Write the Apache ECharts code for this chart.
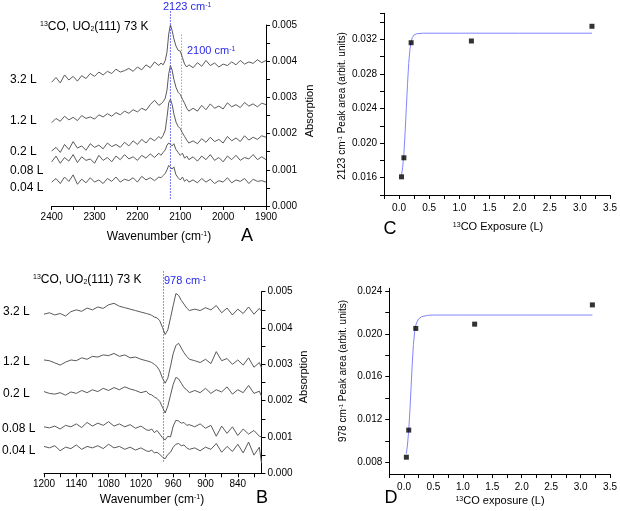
<!DOCTYPE html>
<html><head><meta charset="utf-8">
<script src="https://cdn.jsdelivr.net/npm/echarts@6/dist/echarts.min.js"></script>
<style>html,body{margin:0;padding:0;background:#fff}#c{width:620px;height:511px}</style>
</head><body><div id="c"></div>
<script>
// ---------- DATA ----------
// Panel A: wavenumbers (cm-1) and absorption in units of 1e-3
const wnA = [2400,2390,2380,2370,2360,2350,2340,2330,2320,2310,2300,2290,2280,2270,2260,2250,2240,2230,2220,2210,2200,2190,2180,2170,2160,2150,
  2145,2140,2135,2131,2127,2123,2119,2115,2110,2105,2100,2095,2090,2085,2080,
  2070,2060,2050,2040,2030,2020,2010,2000,1990,1980,1970,1960,1950,1940,1930,1920,1910,1900];
const specA_3_2 = [3.42,3.55,3.40,3.62,3.48,3.58,3.45,3.60,3.52,3.66,3.58,3.70,3.62,3.72,3.66,3.78,3.70,3.74,3.80,3.72,3.84,3.76,3.90,3.82,3.98,3.88,
  3.95,3.90,4.02,4.25,4.75,5.00,4.85,4.62,4.42,4.30,4.28,4.10,3.92,3.84,3.90,
  3.82,3.96,3.86,4.02,3.88,3.95,3.84,3.92,3.88,3.98,3.90,4.02,3.92,3.98,3.94,4.04,3.96,4.02];
const specA_1_2 = [2.30,2.42,2.34,2.48,2.38,2.45,2.36,2.50,2.42,2.46,2.40,2.52,2.46,2.55,2.48,2.58,2.52,2.62,2.56,2.66,2.60,2.70,2.64,2.80,2.92,2.78,
  2.82,2.88,2.98,3.20,3.65,3.88,3.75,3.50,3.28,3.14,3.08,2.95,2.84,2.70,2.62,
  2.70,2.62,2.78,2.66,2.82,2.70,2.76,2.68,2.85,2.74,2.80,2.72,2.86,2.76,2.82,2.74,2.84,2.80];
const specA_0_2 = [1.52,1.62,1.48,1.70,1.56,1.78,1.60,1.66,1.54,1.72,1.62,1.68,1.58,1.74,1.64,1.70,1.62,1.76,1.66,1.80,1.70,1.84,1.74,1.88,1.80,1.92,
  1.86,1.95,2.10,2.45,2.85,2.95,2.80,2.55,2.32,2.20,2.14,2.02,1.92,1.82,1.74,
  1.80,1.72,1.86,1.76,1.90,1.78,1.84,1.74,1.92,1.80,1.88,1.78,1.94,1.82,1.90,1.84,1.94,1.90];
const specA_0_08 = [1.22,1.38,1.18,1.34,1.24,1.42,1.20,1.36,1.26,1.30,1.18,1.40,1.26,1.34,1.22,1.38,1.28,1.42,1.30,1.36,1.26,1.40,1.32,1.44,1.34,1.46,
  1.40,1.48,1.55,1.68,1.74,1.78,1.66,1.72,1.56,1.48,1.40,1.46,1.32,1.38,1.28,
  1.36,1.24,1.38,1.28,1.42,1.26,1.34,1.22,1.38,1.28,1.40,1.26,1.34,1.30,1.42,1.28,1.36,1.28];
const specA_0_04 = [0.66,0.76,0.62,0.80,0.68,0.86,0.60,0.74,0.64,0.78,0.66,0.72,0.62,0.76,0.68,0.80,0.66,0.74,0.70,0.78,0.66,0.82,0.72,0.78,0.70,0.80,
  0.78,0.84,0.90,1.00,1.12,1.16,1.02,1.08,0.86,0.78,0.72,0.80,0.68,0.74,0.66,
  0.72,0.64,0.76,0.66,0.74,0.62,0.70,0.66,0.78,0.64,0.72,0.68,0.76,0.62,0.74,0.68,0.70,0.66];

// Panel B
const wnB = [1200,1190,1180,1170,1160,1150,1140,1130,1120,1110,1100,1090,1080,1070,1060,1050,1040,1030,1020,1010,
  1005,1000,995,990,985,980,975,970,965,960,955,950,945,940,935,930,
  920,910,900,890,880,870,860,850,840,830,820,810,800,796];
const specB_3_2 = [4.38,4.42,4.36,4.40,4.33,4.45,4.50,4.46,4.55,4.50,4.58,4.54,4.64,4.68,4.60,4.56,4.52,4.48,4.44,4.40,
  4.38,4.35,4.30,4.28,4.20,4.02,3.82,3.95,4.28,4.62,4.95,4.90,4.76,4.66,4.55,4.48,
  4.52,4.48,4.56,4.50,4.62,4.42,4.55,4.36,4.52,4.40,4.58,4.38,4.54,4.46];
const specB_1_2 = [3.12,3.10,3.04,2.98,3.06,3.12,3.10,3.18,3.14,3.22,3.20,3.26,3.24,3.30,3.22,3.26,3.18,3.20,3.14,3.10,
  3.08,3.05,3.00,2.94,2.82,2.62,2.48,2.62,2.95,3.30,3.52,3.58,3.45,3.32,3.22,3.14,
  3.10,3.05,3.14,3.02,3.35,3.10,3.16,3.00,3.12,2.98,3.18,2.92,3.05,2.90];
const specB_0_2 = [2.25,2.20,2.18,2.22,2.15,2.24,2.20,2.28,2.22,2.30,2.25,2.34,2.28,2.36,2.30,2.38,2.32,2.28,2.22,2.26,
  2.18,2.16,2.10,2.06,1.98,1.82,1.66,1.85,2.15,2.45,2.64,2.60,2.48,2.36,2.30,2.22,
  2.28,2.22,2.34,2.20,2.30,2.24,2.38,2.18,2.30,2.22,2.42,2.20,2.26,2.12];
const specB_0_08 = [1.28,1.25,1.30,1.22,1.32,1.28,1.36,1.26,1.40,1.30,1.38,1.32,1.42,1.30,1.36,1.28,1.34,1.24,1.30,1.20,
  1.18,1.22,1.12,1.18,1.08,0.98,0.92,1.02,1.00,1.30,1.46,1.44,1.38,1.40,1.32,1.34,
  1.28,1.36,1.24,1.32,1.02,1.30,1.10,1.28,1.04,1.22,1.08,1.18,1.02,1.00];
const specB_0_04 = [0.74,0.70,0.76,0.62,0.72,0.68,0.78,0.66,0.74,0.70,0.76,0.68,0.80,0.70,0.74,0.66,0.72,0.64,0.70,0.62,
  0.60,0.64,0.56,0.58,0.52,0.45,0.40,0.52,0.58,0.72,0.80,0.82,0.76,0.78,0.70,0.66,
  0.70,0.62,0.72,0.66,0.82,0.58,0.74,0.60,0.80,0.56,0.86,0.50,0.72,0.28];

const spectraLabels = ['3.2 L','1.2 L','0.2 L','0.08 L','0.04 L'];

// Panels C and D
const exposure = [0.04, 0.08, 0.2, 1.2, 3.2];
const area2123 = [0.0161, 0.0183, 0.0316, 0.0318, 0.0335];
const area978  = [0.00847, 0.0110, 0.0205, 0.0209, 0.0227];
const fitX     = [0.04,0.06,0.08,0.10,0.12,0.14,0.16,0.18,0.20,0.22,0.25,0.30,0.40,0.50,1.0,2.0,3.2];
const fit2123  = [0.0163,0.0172,0.0188,0.0212,0.0240,0.0268,0.0292,0.0308,0.0317,0.0322,0.0325,0.03265,0.0327,0.0327,0.0327,0.0327,0.0327];
const fit978   = [0.0088,0.0097,0.0110,0.0128,0.0150,0.0172,0.0190,0.0202,0.0208,0.0211,0.0214,0.0216,0.02172,0.02175,0.02175,0.02175,0.02175];

// Reference peak positions (cm-1) with vertical extent (1e-3 units)
const peakA1 = {wn: 2123, from: 0.2, to: 5.4};
const peakA2 = {wn: 2097, from: 1.63, to: 4.78};
const peakB1 = {wn: 978, from: 0.32, to: 5.6};

// Tick positions
const ticksBx = [1200,1170,1140,1110,1080,1050,1020,990,960,930,900,870,840,810];
const labelsBx = [1200,1140,1080,1020,960,900,840];
const ticksDy = [0.008,0.010,0.012,0.014,0.016,0.018,0.020,0.022,0.024];
const labelsDy = [0.008,0.012,0.016,0.020,0.024];

// ---------- CHART ----------
const FONT = 'Liberation Sans, Arial, sans-serif';
const chart = echarts.init(document.getElementById('c'), null, {renderer:'canvas'});
const axisLine = {show:true, onZero:false, lineStyle:{color:'#000', width:1}};
const axisTick = {show:true, inside:false, length:4, lineStyle:{color:'#000'}};
const lbl = (m) => ({color:'#000', fontSize:10, fontFamily:FONT, margin:m});

function spec(xi, yi, wn, arr) {
  return {type:'line', xAxisIndex:xi, yAxisIndex:yi, showSymbol:false, animation:false,
    lineStyle:{color:'#5a5a5a', width:1}, data: wn.map((w,i)=>[w, arr[i]/1000]), z:3};
}
function vline(xi, yi, p, color) {
  return {type:'line', xAxisIndex:xi, yAxisIndex:yi, showSymbol:false, clip:false, animation:false,
    color: color, itemStyle:{color:color},
    lineStyle:{color:color, width:1, type:[1.5,1.5]}, data:[[p.wn, p.from/1000],[p.wn, p.to/1000]], z:2};
}

const richBase = (fs) => ({
  n:{fontSize:fs, fontFamily:FONT, fill:'#000'},
  s:{fontSize:Math.round(fs*0.62), fontFamily:FONT, verticalAlign:'top', fill:'#000'},
  b:{fontSize:Math.round(fs*0.62), fontFamily:FONT, verticalAlign:'bottom', fill:'#000'},
  bn:{fontSize:fs, fontFamily:FONT, fill:'#2a2ae8'},
  bs:{fontSize:Math.round(fs*0.62), fontFamily:FONT, verticalAlign:'top', fill:'#2a2ae8'}
});
function T(x, y, text, fs, opt) {
  opt = opt || {};
  return {type:'text', x:x, y:y, rotation: opt.rot || 0, z:10,
    style:{text:text, rich:richBase(fs), fontSize:fs, fontFamily:FONT, fill:opt.fill||'#000',
      align:opt.align||'left', verticalAlign:'middle'}};
}

const graphics = [
  // Panel A
  T(40, 27, '{s|13}{n|CO, UO}{b|2}{n|(111) 73 K}', 12),
  T(163, 7, '{bn|2123 cm}{bs|-1}', 11),
  T(187, 51, '{bn|2100 cm}{bs|-1}', 11),
  T(10, 80, spectraLabels[0], 12), T(10, 121, spectraLabels[1], 12), T(10, 152, spectraLabels[2], 12),
  T(10, 171, spectraLabels[3], 12), T(10, 188, spectraLabels[4], 12),
  T(159, 237, '{n|Wavenumber (cm}{s|-1}{n|)}', 12, {align:'center'}),
  T(247, 236, 'A', 18, {align:'center'}),
  T(310, 111, 'Absorption', 11, {align:'center', rot:Math.PI/2}),
  // Panel C
  T(342, 106, '{n|2123 cm}{s|-1}{n| Peak area (arbit. units)}', 10, {align:'center', rot:Math.PI/2}),
  T(498, 227, '{s|13}{n|CO Exposure (L)}', 11, {align:'center'}),
  T(390, 229, 'C', 18, {align:'center'}),
  // Panel B
  T(33, 280, '{s|13}{n|CO, UO}{b|2}{n|(111) 73 K}', 12),
  T(164, 281, '{bn|978 cm}{bs|-1}', 11),
  T(3, 312, spectraLabels[0], 12), T(3, 362, spectraLabels[1], 12), T(3, 394, spectraLabels[2], 12),
  T(2, 429, spectraLabels[3], 12), T(2, 451, spectraLabels[4], 12),
  T(152, 500, '{n|Wavenumber (cm}{s|-1}{n|)}', 12, {align:'center'}),
  T(262, 498, 'B', 18, {align:'center'}),
  T(304, 377, 'Absorption', 11, {align:'center', rot:Math.PI/2}),
  // Panel D
  T(343, 371, '{n|978 cm}{s|-1}{n| Peak area (arbit. units)}', 10, {align:'center', rot:Math.PI/2}),
  T(500, 501, '{s|13}{n|CO exposure (L)}', 11, {align:'center'}),
  T(391, 498, 'D', 18, {align:'center'})
];

const fmt3 = v => (Math.round(v*10000) % 10 === 0) ? v.toFixed(3) : '';
const fmtExpo = v => (v >= 0 && Math.round(v*100) % 50 === 0) ? v.toFixed(1) : '';

const option = {
  animation:false,
  backgroundColor:'#fff',
  grid:[
    {left:51.7, top:25, width:214.3, height:181},
    {left:384, top:13.3, width:227.5, height:181.7},
    {left:44, top:291.7, width:217.5, height:181.6},
    {left:389.3, top:288.3, width:222.2, height:185.7}
  ],
  xAxis:[
    {gridIndex:0, type:'value', min:1900, max:2400, interval:50, inverse:true, axisLine, axisTick,
      axisLabel:{...lbl(6), formatter: v => (v % 100 === 0 ? String(v) : '')}, splitLine:{show:false}},
    {gridIndex:1, type:'value', min:-0.25, max:3.5, interval:0.25, axisLine, axisTick,
      axisLabel:{...lbl(8), formatter: fmtExpo}, splitLine:{show:false}},
    {gridIndex:2, type:'value', min:796, max:1200, inverse:true, axisLine,
      axisTick:{...axisTick, customValues: ticksBx},
      axisLabel:{...lbl(6), customValues: labelsBx, formatter: v => String(Math.round(v))}, splitLine:{show:false}},
    {gridIndex:3, type:'value', min:-0.25, max:3.5, interval:0.25, axisLine, axisTick,
      axisLabel:{...lbl(8), formatter: fmtExpo}, splitLine:{show:false}}
  ],
  yAxis:[
    {gridIndex:0, type:'value', position:'right', min:0, max:0.005, interval:0.0005, axisLine, axisTick,
      axisLabel:{...lbl(6), formatter: fmt3}, splitLine:{show:false}},
    {gridIndex:1, type:'value', min:0.014, max:0.035, interval:0.002, axisLine, axisTick,
      axisLabel:{...lbl(7), formatter: v => (Math.round(v*1000) % 4 === 0 ? v.toFixed(3) : '')}, splitLine:{show:false}},
    {gridIndex:2, type:'value', position:'right', min:0, max:0.005, interval:0.0005, axisLine, axisTick,
      axisLabel:{...lbl(6), formatter: fmt3}, splitLine:{show:false}},
    {gridIndex:3, type:'value', min:0.0069, max:0.02425, axisLine,
      axisTick:{...axisTick, customValues: ticksDy},
      axisLabel:{...lbl(7), customValues: labelsDy, formatter: v => v.toFixed(3)}, splitLine:{show:false}}
  ],
  series:[
    spec(0,0,wnA,specA_3_2), spec(0,0,wnA,specA_1_2), spec(0,0,wnA,specA_0_2), spec(0,0,wnA,specA_0_08), spec(0,0,wnA,specA_0_04),
    vline(0,0,peakA1,'#4646f5'), vline(0,0,peakA2,'#9a9aff'),
    {type:'line', xAxisIndex:1, yAxisIndex:1, showSymbol:false, lineStyle:{color:'#8484ff', width:1},
      data: fitX.map((x,i)=>[x, fit2123[i]])},
    {type:'scatter', xAxisIndex:1, yAxisIndex:1, symbol:'rect', symbolSize:5, itemStyle:{color:'#000'},
      data: exposure.map((x,i)=>[x, area2123[i]]), z:5},
    spec(2,2,wnB,specB_3_2), spec(2,2,wnB,specB_1_2), spec(2,2,wnB,specB_0_2), spec(2,2,wnB,specB_0_08), spec(2,2,wnB,specB_0_04),
    vline(2,2,peakB1,'#6a6aff'),
    {type:'line', xAxisIndex:3, yAxisIndex:3, showSymbol:false, lineStyle:{color:'#8484ff', width:1},
      data: fitX.map((x,i)=>[x, fit978[i]])},
    {type:'scatter', xAxisIndex:3, yAxisIndex:3, symbol:'rect', symbolSize:5, itemStyle:{color:'#000'},
      data: exposure.map((x,i)=>[x, area978[i]]), z:5}
  ],
  graphic: graphics
};
chart.setOption(option);
</script>
</body></html>
